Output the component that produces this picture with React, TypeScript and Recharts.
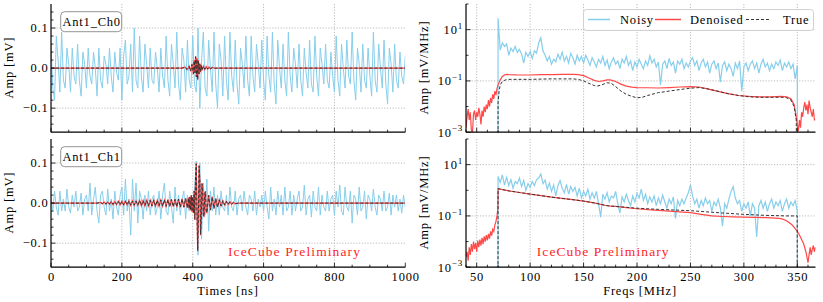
import React from 'react';
import { LineChart, Line, XAxis, YAxis, CartesianGrid } from 'recharts';

// time traces are sampled every DT ns
const DT = 5;

const noisyCh0 = [
  .06, -.05, -.08, .08, .02, -.06, .09, -.03, -.05, .05, .01, -.06, .05, -.02, -.04, .06, -.03, -.07, .04, .01,
  -.05, .05, -.02, -.04, .04, .00, -.07, .05, -.03, -.05, .03, .01, -.04, .05, -.02, -.06, .04, -.01, -.03, .05,
  -.08, .03, .07, -.04, -.02, .06, -.06, .10, -.03, -.05, .08, -.02, -.06, .06, .01, -.05, .05, -.03, -.04, .04,
  .00, -.06, .05, -.02, -.05, .08, -.03, -.07, .06, .01, -.05, .09, -.04, -.08, .05, .02, -.06, .07, -.03, -.05,
  .08, -.04, -.06, .10, -.10, .02, .09, -.05, -.07, .07, .00, -.06, .09, -.04, -.10, .06, .02, -.07, .08, -.03,
  -.08, .09, -.02, -.06, .07, -.04, -.09, .05, .01, -.05, .08, -.03, -.07, .08, -.02, -.06, .06, .01, -.05, .07,
  -.03, -.08, .08, -.02, -.06, .09, -.04, -.09, .07, .00, -.05, .06, -.03, -.07, .09, -.02, -.06, .05, .01, -.05,
  .06, -.03, -.07, .05, -.01, -.05, .07, -.04, -.06, .08, -.02, -.07, .05, .01, -.04, .06, -.03, -.05, .04, -.02,
  -.06, .08, -.03, -.07, .06, .00, -.05, .07, -.02, -.04, .09, -.03, -.08, .05, .01, -.06, .06, -.03, -.05, .05,
  -.02, -.07, .09, -.03, -.06, .06, .00, -.05, .07, -.04, -.09, .05, .01, -.06, .06, -.03, -.05, .04, -.02, -.04,
  .03,
];

const noisyCh1 = [
  .01, -.02, .03, -.01, -.03, .03, -.02, .01, -.02, .035, -.01, -.025, .02, -.01, .03, -.02, -.01, .025, -.03, .01,
  .02, -.02, .05, -.03, .01, .04, -.02, -.05, .02, .03, -.01, -.03, .035, -.02, .01, -.04, .03, -.01, -.03, .02,
  .04, -.03, .06, -.02, .01, -.08, .06, -.02, .05, -.05, .03, .01, -.04, .02, -.02, .03, -.03, .01, .02, -.03,
  -.01, .03, -.04, .02, .05, -.02, -.03, .03, -.01, -.05, .04, -.02, .02, -.03, .01, .03, -.04, .02, -.02, .01,
  -.02, .03, .105, -.13, .10, -.09, .05, -.03, .06, -.07, .03, -.02, .04, -.03, .02, -.03, .03, -.01, -.02, .02,
  -.03, .04, -.01, -.02, .03, -.03, .01, .02, -.02, .03, -.01, -.03, .02, .01, -.02, .03, -.03, .01, -.01, .02,
  -.02, .03, -.01, -.04, .04, -.02, .01, -.03, .03, -.01, .02, -.03, .04, -.02, -.01, .03, -.03, .02, -.02, .01,
  .03, -.02, -.01, .045, -.03, .01, .02, -.035, .03, -.01, -.02, .04, -.03, .02, -.01, -.02, .03, -.02, .01, .02,
  -.03, .03, -.01, .045, -.02, -.03, .04, -.01, -.02, .03, -.05, .02, .01, -.03, .04, -.02, -.01, .03, -.04, .02,
  .01, -.02, .035, -.01, -.03, .02, .01, -.02, .03, -.02, -.01, .025, -.03, .02, -.01, .02, -.02, .01, -.025, .02,
  -.01,
];

const sigTimes0 = [0, 370, 378, 384, 390, 394, 398, 402, 404, 406, 408, 410, 412, 414, 416, 418, 420, 422, 424, 426, 430, 434, 438, 442, 446, 450, 456, 462, 470, 1000];
const denoisedCh0 = [0, 0, .003, -.004, .005, -.008, .01, -.015, .02, -.01, .03, -.02, .025, -.03, .02, -.015, .012, -.01, .008, -.006, .005, -.004, .004, -.003, .003, -.002, .002, -.001, 0, 0];
const trueCh0 = [0, 0, .002, -.003, .004, -.007, .009, -.014, .018, -.012, .028, -.022, .022, -.028, .018, -.014, .01, -.009, .007, -.005, .004, -.003, .003, -.002, .002, -.001, .001, 0, 0, 0];

const sigTimes1 = [
  0, 130,
  140, 145, 150, 155, 160, 165, 170, 175, 180, 185, 190, 195, 200, 205, 210, 215, 220, 225, 230, 235, 240, 245, 250, 255,
  260, 265, 270, 275, 280, 285, 290, 295, 300, 305, 310, 315, 320, 325, 330, 335, 340, 345, 350, 355, 360, 365, 370, 375, 380, 385,
  388, 390, 392, 394, 396, 398, 400, 402, 404, 406, 408, 410, 412, 414, 416, 418, 420, 422, 424, 426, 428, 430, 432, 434, 436, 438, 440,
  445, 450, 455, 460, 465, 470, 475, 480, 485, 490, 495, 500, 505, 510, 515, 520,
  530, 1000,
];
const denoisedCh1 = [
  0, 0,
  .002, -.002, .003, -.003, .003, -.003, .004, -.004, .004, -.004, .005, -.005, .005, -.005, .005, -.005, .006, -.006, .006, -.006,
  .006, -.006, .007, -.007, .007, -.007, .007, -.007, .007, -.007, .008, -.008, .008, -.008, .008, -.008, .008, -.008, .009, -.009,
  .009, -.009, .01, -.01, .01, -.01, .011, -.011, .012, -.012,
  .014, -.015, .016, -.018, .02, -.022, .015, -.025, .03, -.04, .06, .1, -.02, -.12, -.03, .095, .06, -.08, -.05, .05, .04, -.03, -.035, .025, .03, -.02, -.025,
  .02, -.018, .016, -.014, .012, -.01, .008, -.007, .006, -.005, .004, -.004, .003, -.003, .002, -.002,
  0, 0,
];
const trueCh1 = [
  0, 0,
  .001, -.001, .002, -.002, .002, -.002, .003, -.003, .003, -.003, .004, -.004, .004, -.004, .004, -.004, .005, -.005, .005, -.005,
  .005, -.005, .006, -.006, .006, -.006, .006, -.006, .007, -.007, .007, -.007, .007, -.007, .008, -.008, .008, -.008, .008, -.008,
  .009, -.009, .009, -.009, .01, -.01, .01, -.01, .011, -.011,
  .012, -.014, .015, -.017, .019, -.021, .016, -.024, .03, -.042, .065, .098, -.025, -.118, -.028, .092, .058, -.078, -.048, .048, .038, -.028, -.033, .024, .028, -.019, -.024,
  .019, -.017, .015, -.013, .011, -.01, .008, -.007, .006, -.005, .004, -.003, .003, -.002, .002, -.001,
  0, 0,
];

// spectra: noisy on a 2 MHz grid inside the 70-350 MHz band
const BAND_LO = 70;
const DF = 2;
const noisySpec0 = [
  1e-6,
  28, 1.6, 3.0, 2.2, 2.8, 1.0, 1.9, 1.4, 2.2, 1.3,
  1.7, 1.1, 0.5, 1.3, 0.9, 1.4, 0.75, 1.5, 1.2, 3.0,
  4.8, 1.5, 1.0, 0.6, 0.9, 0.45, 0.7, 0.55, 1.1, 0.7,
  1.3, 0.6, 0.9, 0.5, 1.2, 0.8, 0.45, 1.0, 0.6, 0.9,
  0.5, 1.0, 0.65, 0.4, 0.8, 0.55, 0.35, 0.7, 0.5, 0.9,
  0.4, 0.65, 0.3, 0.55, 0.8, 0.45, 0.6, 0.3, 0.7, 0.5,
  0.9, 0.4, 0.6, 0.25, 0.55, 0.35, 0.7, 0.45, 0.3, 0.6,
  0.4, 0.95, 0.5, 0.7, 0.35, 0.55, 0.07, 0.45, 0.6, 0.3,
  0.75, 0.4, 0.55, 0.2, 0.6, 0.45, 0.7, 0.3, 0.5, 0.35,
  0.6, 0.8, 0.4, 0.6, 0.25, 0.5, 0.7, 0.35, 0.55, 0.2,
  0.45, 0.6, 0.3, 0.5, 0.09, 0.4, 0.55, 0.25, 0.45, 0.3,
  0.15, 0.5, 0.3, 0.6, 0.04, 0.35, 0.5, 0.25, 0.45, 0.6,
  0.3, 0.5, 0.2, 0.45, 0.7, 0.35, 0.5, 0.25, 0.45, 0.3,
  0.55, 0.4, 0.65, 0.25, 0.5, 0.35, 0.55, 0.3, 0.45, 0.12,
  0.4,
  1e-6,
];
const noisySpec1 = [
  1e-6,
  3.5, 2.0, 4.0, 1.6, 3.2, 1.5, 2.6, 1.2, 2.2, 1.8,
  3.0, 1.4, 2.4, 1.0, 1.8, 1.3, 2.2, 1.5, 2.6, 3.0,
  4.3, 1.8, 2.5, 1.1, 1.9, 0.9, 1.6, 0.6, 1.5, 2.4,
  1.2, 0.8, 1.7, 0.7, 1.4, 0.9, 1.3, 0.6, 1.2, 0.5,
  0.9, 0.6, 1.1, 0.45, 0.8, 0.5, 0.9, 0.3, 0.09, 0.7,
  0.45, 0.8, 0.35, 0.6, 0.5, 0.9, 0.3, 0.13, 0.55, 0.35,
  0.7, 0.4, 0.25, 0.6, 0.35, 0.75, 0.5, 1.1, 0.4, 0.7,
  0.3, 0.55, 0.35, 0.6, 0.25, 0.5, 0.3, 0.65, 0.35, 0.2,
  0.45, 0.3, 0.55, 0.08, 0.4, 0.25, 0.45, 0.3, 0.5, 0.8,
  1.6, 0.6, 0.3, 0.45, 0.2, 0.4, 0.25, 0.5, 0.3, 0.4,
  0.15, 0.35, 0.25, 0.45, 0.2, 0.04, 0.3, 0.2, 0.45, 0.9,
  1.4, 0.5, 0.3, 0.4, 0.15, 0.3, 0.2, 0.35, 0.1, 0.3,
  0.2, 0.015, 0.25, 0.4, 0.2, 0.35, 0.15, 0.3, 0.45, 0.2,
  0.35, 0.25, 0.4, 0.15, 0.3, 0.45, 0.2, 0.35, 0.25, 0.4,
  0.15,
  1e-6,
];

const denFreqs0 = [
  40, 41, 42, 43, 44, 45, 46, 47, 48, 49, 50, 51, 52, 53, 54, 55, 56, 57, 58, 59, 60, 61, 62, 63, 64, 65, 66, 67, 68, 69, 70,
  72, 74, 76, 78, 80, 90, 100, 110, 120, 130, 140, 145, 150, 155, 160, 164, 168, 172, 175, 180, 185, 190, 195, 200,
  210, 220, 230, 240, 250, 258, 265, 275, 285, 295, 305, 315, 325, 335, 340, 344, 347, 349, 350,
  351, 352, 353, 354, 355, 356, 357, 358, 359, 360, 361, 362, 363, 364, 365, 366, 367,
];
const denSpec0 = [
  0.0015, 0.004, 0.008, 0.003, 0.006, 0.0012, 0.0009, 0.005, 0.007, 0.003, 0.006, 0.004, 0.009, 0.005, 0.002, 0.007, 0.004, 0.01, 0.006, 0.012,
  0.008, 0.018, 0.01, 0.022, 0.014, 0.03, 0.02, 0.04, 0.028, 0.05, 0.07,
  0.11, 0.15, 0.17, 0.18, 0.175, 0.17, 0.17, 0.175, 0.175, 0.18, 0.18, 0.175, 0.16, 0.13, 0.105, 0.095, 0.1, 0.11, 0.11, 0.095, 0.075, 0.063, 0.057, 0.055,
  0.054, 0.053, 0.055, 0.058, 0.06, 0.058, 0.05, 0.04, 0.032, 0.027, 0.025, 0.024, 0.024, 0.025, 0.024, 0.02, 0.012, 0.004, 0.002,
  0.0011, 0.003, 0.0015, 0.006, 0.004, 0.009, 0.015, 0.007, 0.012, 0.005, 0.017, 0.009, 0.006, 0.004, 0.008, 0.003, 0.003,
];
const trueFreqs0 = [
  69.9, 70, 71, 72, 74, 77, 80, 100, 120, 140, 145, 150, 155, 160, 163, 167, 172, 176, 180, 185, 190, 195, 200,
  205, 210, 220, 230, 240, 250, 258, 265, 275, 285, 295, 305, 315, 325, 335, 340, 344, 347, 349, 350,
];
const trueSpec0 = [
  1e-6, 0.015, 0.04, 0.07, 0.095, 0.11, 0.115, 0.115, 0.12, 0.12, 0.115, 0.1, 0.08, 0.066, 0.063, 0.07, 0.085, 0.08, 0.06, 0.04, 0.03, 0.025, 0.022,
  0.023, 0.027, 0.035, 0.04, 0.046, 0.052, 0.055, 0.05, 0.04, 0.032, 0.027, 0.024, 0.023, 0.023, 0.023, 0.022, 0.018, 0.01, 0.003, 1e-6,
];

const denFreqs1 = [
  40, 41, 42, 43, 44, 45, 46, 47, 48, 49, 50, 51, 52, 53, 54, 55, 56, 57, 58, 59, 60, 61, 62, 63, 64, 65, 66, 67, 68, 69, 69.8,
  70, 80, 90, 100, 110, 120, 130, 140, 150, 160, 170, 175, 180, 190, 200, 210, 220, 230, 240, 250, 260, 270, 280, 290,
  300, 310, 320, 330, 335, 340, 345, 348, 350, 352, 354, 356, 358, 359, 360, 361, 362, 363, 364, 365, 366, 367,
];
const denSpec1 = [
  0.0025, 0.004, 0.0018, 0.006, 0.003, 0.008, 0.004, 0.01, 0.005, 0.009, 0.004, 0.011, 0.006, 0.012, 0.007, 0.014, 0.008, 0.016, 0.01, 0.018,
  0.011, 0.02, 0.013, 0.025, 0.017, 0.03, 0.025, 0.045, 0.06, 0.1, 0.2,
  1.15, 0.95, 0.82, 0.71, 0.62, 0.54, 0.48, 0.43, 0.38, 0.32, 0.26, 0.24, 0.235, 0.21, 0.19, 0.175, 0.165, 0.155, 0.145, 0.135, 0.115, 0.1, 0.095, 0.092,
  0.09, 0.088, 0.085, 0.082, 0.078, 0.065, 0.045, 0.032, 0.025, 0.018, 0.012, 0.008, 0.004, 0.0025, 0.0015, 0.003, 0.006, 0.003, 0.005, 0.007, 0.004, 0.006,
];
const trueFreqs1 = [69.9, 70, 80, 90, 100, 110, 120, 130, 140, 150, 160, 172, 180, 200, 220, 250, 280, 300, 320, 340, 349.9, 350];
const trueSpec1 = [1e-6, 1.15, 0.95, 0.82, 0.71, 0.62, 0.54, 0.48, 0.43, 0.38, 0.32, 0.25, 0.235, 0.2, 0.18, 0.16, 0.13, 0.115, 0.105, 0.1, 0.1, 1e-6];

// axis ticks
const timeTicks = [0, 50, 100, 150, 200, 250, 300, 350, 400, 450, 500, 550, 600, 650, 700, 750, 800, 850, 900, 950, 1000];
const timeMajor = [0, 200, 400, 600, 800, 1000];
const ampTicks = [-0.14, -0.12, -0.1, -0.08, -0.06, -0.04, -0.02, 0, 0.02, 0.04, 0.06, 0.08, 0.1, 0.12, 0.14];
const ampMajor = [-0.1, 0, 0.1];
const freqTicks = [40, 50, 60, 70, 80, 90, 100, 110, 120, 130, 140, 150, 160, 170, 180, 190, 200, 210, 220, 230, 240, 250, 260, 270, 280, 290, 300, 310, 320, 330, 340, 350, 360];
const freqMajor = [50, 100, 150, 200, 250, 300, 350];
const specTicks = [0.001, 0.01, 0.1, 1, 10, 100];
const specMajor = [0.001, 0.1, 10];

const NOISY = '#87ceeb';
const RED = '#ff4848';
const TRUE = '#333333';
const SERIF = '"Liberation Serif", serif';
// Liberation Serif is narrower than the original serif face, so letters get a little extra spacing
const FONT = { style: { fontFamily: SERIF, letterSpacing: 0.8 }, fontSize: 12.5, fill: '#000' };

type Pt = { x: number; y: number };
type Trace = { data: Pt[]; color: string; width: number; dash?: string };

const pts = (xs: number[], ys: number[]): Pt[] => ys.map((y, i) => ({ x: xs[i], y }));
const timeGrid = (n: number) => Array.from({ length: n }, (_, i) => i * DT);
const freqGrid = (n: number) => [BAND_LO - 0.1, ...Array.from({ length: n - 2 }, (_, i) => BAND_LO + DF * i), 350.1];

const minus = (s: string) => s.replace('-', '\u2212');
const fmtAmp = (v: number) => minus(v.toFixed(1));

const tickX = (major: number[], labels: boolean, top: boolean) => (p: any) => {
  const v = p.payload.value;
  const m = major.includes(v);
  const len = m ? 4.5 : 2.5;
  return (
    <g>
      <line x1={p.x} x2={p.x} y1={p.y} y2={top ? p.y + len : p.y - len} stroke="#000" strokeWidth={0.8} />
      {labels && m && (
        <text x={p.x + 0.4} y={p.y + 14} textAnchor="middle" {...FONT}>{v}</text>
      )}
    </g>
  );
};

const tickY = (major: number[], labels: boolean, right: boolean, log: boolean) => (p: any) => {
  const v = p.payload.value;
  const m = major.includes(v);
  const len = m ? 4.5 : 2.5;
  let label = null;
  if (labels && m) {
    if (log) {
      const e = Math.round(Math.log10(v));
      label = (
        <text x={p.x - 3} y={p.y + 4.5} textAnchor="end" {...FONT}>
          10<tspan dy={-5.5} fontSize={9}>{minus(String(e))}</tspan>
        </text>
      );
    } else {
      label = <text x={p.x - 2.5} y={p.y + 4} textAnchor="end" {...FONT}>{fmtAmp(v)}</text>;
    }
  }
  return (
    <g>
      <line x1={p.x} x2={right ? p.x - len : p.x + len} y1={p.y} y2={p.y} stroke="#000" strokeWidth={0.8} />
      {label}
    </g>
  );
};

const YW = 50;
const MT = 4;
const MR = 20;
const FRAME = { stroke: '#000', strokeWidth: 1.2 };

interface PanelProps {
  left: number;
  top: number;
  plotW: number;
  plotH: number;
  xLabels: boolean;
  xDomain: [number, number];
  xTicks: number[];
  xMajor: number[];
  yDomain: [number, number];
  yTicks: number[];
  yMajor: number[];
  log: boolean;
  traces: Trace[];
}

const Panel = (p: PanelProps) => {
  const xh = p.xLabels ? 22 : 10;
  const w = YW + p.plotW + MR;
  const h = MT + p.plotH + xh;
  const xGrid = p.xMajor.filter((v) => v > p.xDomain[0] && v < p.xDomain[1]);
  const yGrid = p.yMajor.filter((v) => v > p.yDomain[0] && v < p.yDomain[1]);
  const scale = p.log ? 'log' : 'linear';
  return (
    <div style={{ position: 'absolute', left: p.left - YW, top: p.top - MT }}>
      <LineChart width={w} height={h} margin={{ top: MT, right: MR, bottom: 0, left: 0 }}>
        <CartesianGrid
          horizontalValues={yGrid}
          verticalValues={xGrid}
          stroke="#aaaaaa"
          strokeWidth={0.8}
          strokeDasharray="1.2 1.6"
        />
        <XAxis
          type="number"
          dataKey="x"
          domain={p.xDomain}
          allowDataOverflow
          ticks={p.xTicks}
          interval={0}
          height={xh}
          tickSize={0}
          tickMargin={0}
          tickLine={false}
          tick={tickX(p.xMajor, p.xLabels, false)}
          axisLine={FRAME}
        />
        <XAxis
          xAxisId="top"
          orientation="top"
          type="number"
          dataKey="x"
          domain={p.xDomain}
          allowDataOverflow
          ticks={p.xTicks}
          interval={0}
          height={0}
          tickSize={0}
          tickMargin={0}
          tickLine={false}
          tick={tickX(p.xMajor, false, true)}
          axisLine={FRAME}
        />
        <YAxis
          type="number"
          scale={scale}
          domain={p.yDomain}
          allowDataOverflow
          ticks={p.yTicks}
          interval={0}
          width={YW}
          tickSize={0}
          tickMargin={0}
          tickLine={false}
          tick={tickY(p.yMajor, true, false, p.log)}
          axisLine={FRAME}
        />
        <YAxis
          yAxisId="right"
          orientation="right"
          type="number"
          scale={scale}
          domain={p.yDomain}
          allowDataOverflow
          ticks={p.yTicks}
          interval={0}
          width={0}
          tickSize={0}
          tickMargin={0}
          tickLine={false}
          tick={tickY(p.yMajor, false, true, p.log)}
          axisLine={FRAME}
        />
        {p.traces.map((t, i) => (
          <Line
            key={i}
            data={t.data}
            dataKey="y"
            type="linear"
            stroke={t.color}
            strokeWidth={t.width}
            strokeDasharray={t.dash}
            dot={false}
            activeDot={false}
            isAnimationActive={false}
          />
        ))}
      </LineChart>
    </div>
  );
};

const LEFT_X = 50.7;
const LEFT_W = 354.3;
const RIGHT_X = 465.5;
const RIGHT_W = 349.5;
const TOP_Y = 3.5;
const BOT_Y = 138.5;
const PLOT_H = 128.2;

const time0: Trace[] = [
  { data: pts(timeGrid(noisyCh0.length), noisyCh0), color: NOISY, width: 1 },
  { data: pts(sigTimes0, denoisedCh0), color: RED, width: 1.2 },
  { data: pts(sigTimes0, trueCh0), color: TRUE, width: 1, dash: '3 2' },
];
const time1: Trace[] = [
  { data: pts(timeGrid(noisyCh1.length), noisyCh1), color: NOISY, width: 1 },
  { data: pts(sigTimes1, denoisedCh1), color: RED, width: 1.2 },
  { data: pts(sigTimes1, trueCh1), color: TRUE, width: 1, dash: '3 2' },
];
const spec0: Trace[] = [
  { data: pts(freqGrid(noisySpec0.length), noisySpec0), color: NOISY, width: 1.2 },
  { data: pts(denFreqs0, denSpec0), color: RED, width: 1.2 },
  { data: pts(trueFreqs0, trueSpec0), color: TRUE, width: 1, dash: '3 2' },
];
const spec1: Trace[] = [
  { data: pts(freqGrid(noisySpec1.length), noisySpec1), color: NOISY, width: 1.2 },
  { data: pts(denFreqs1, denSpec1), color: RED, width: 1.2 },
  { data: pts(trueFreqs1, trueSpec1), color: TRUE, width: 1, dash: '3 2' },
];

const timeAxes = { xDomain: [0, 1000] as [number, number], xTicks: timeTicks, xMajor: timeMajor, yDomain: [-0.16, 0.16] as [number, number], yTicks: ampTicks, yMajor: ampMajor, log: false };
const freqAxes = { xDomain: [40, 367] as [number, number], xTicks: freqTicks, xMajor: freqMajor, yDomain: [0.001, 100] as [number, number], yTicks: specTicks, yMajor: specMajor, log: true };

const ChannelTag = ({ x, y, text }: { x: number; y: number; text: string }) => (
  <g>
    <rect x={x} y={y} width={61} height={20} rx={4} fill="#fff" fillOpacity={0.85} stroke="#888" strokeWidth={0.9} />
    <text x={x + 31} y={y + 14} textAnchor="middle" {...FONT}>{text}</text>
  </g>
);

const Legend = () => (
  <g>
    <rect x={583.5} y={9.5} width={230} height={21} rx={3} fill="#fff" fillOpacity={0.85} stroke="#cccccc" strokeWidth={0.9} />
    <line x1={588} x2={610} y1={19.5} y2={19.5} stroke={NOISY} strokeWidth={1.5} />
    <text x={620} y={23.5} {...FONT}>Noisy</text>
    <line x1={655} x2={681} y1={19.5} y2={19.5} stroke={RED} strokeWidth={1.5} />
    <text x={690} y={23.5} {...FONT}>Denoised</text>
    <line x1={746} x2={771} y1={19.5} y2={19.5} stroke={TRUE} strokeWidth={1.2} strokeDasharray="3 2" />
    <text x={783} y={23.5} {...FONT}>True</text>
  </g>
);

const STAMP = { style: { fontFamily: SERIF, letterSpacing: 1.1 }, fontSize: 13.5, fill: '#ff1f1f' };

export default function App() {
  return (
    <div style={{ position: 'absolute', left: 0, top: 0, width: 823, height: 302, background: '#fff', overflow: 'hidden', fontFamily: SERIF }}>
      <Panel left={LEFT_X} top={TOP_Y} plotW={LEFT_W} plotH={PLOT_H} xLabels={false} {...timeAxes} traces={time0} />
      <Panel left={LEFT_X} top={BOT_Y} plotW={LEFT_W} plotH={PLOT_H} xLabels {...timeAxes} traces={time1} />
      <Panel left={RIGHT_X} top={TOP_Y} plotW={RIGHT_W} plotH={PLOT_H} xLabels={false} {...freqAxes} traces={spec0} />
      <Panel left={RIGHT_X} top={BOT_Y} plotW={RIGHT_W} plotH={PLOT_H} xLabels {...freqAxes} traces={spec1} />
      <svg width={823} height={302} style={{ position: 'absolute', left: 0, top: 0, pointerEvents: 'none' }}>
        <ChannelTag x={60.7} y={11.7} text="Ant1_Ch0" />
        <ChannelTag x={60.7} y={146.7} text="Ant1_Ch1" />
        <Legend />
        <text x={228} y={256} {...STAMP}>IceCube Preliminary</text>
        <text x={536.7} y={256} {...STAMP}>IceCube Preliminary</text>
        <text x={228} y={295} textAnchor="middle" {...FONT}>Times [ns]</text>
        <text x={640} y={295} textAnchor="middle" {...FONT}>Freqs [MHz]</text>
        <text transform="translate(13,67.6) rotate(-90)" textAnchor="middle" {...FONT}>Amp [mV]</text>
        <text transform="translate(13,202.6) rotate(-90)" textAnchor="middle" {...FONT}>Amp [mV]</text>
        <text transform="translate(427.5,67.6) rotate(-90)" textAnchor="middle" {...FONT}>Amp [mV/MHz]</text>
        <text transform="translate(427.5,202.6) rotate(-90)" textAnchor="middle" {...FONT}>Amp [mV/MHz]</text>
      </svg>
    </div>
  );
}
